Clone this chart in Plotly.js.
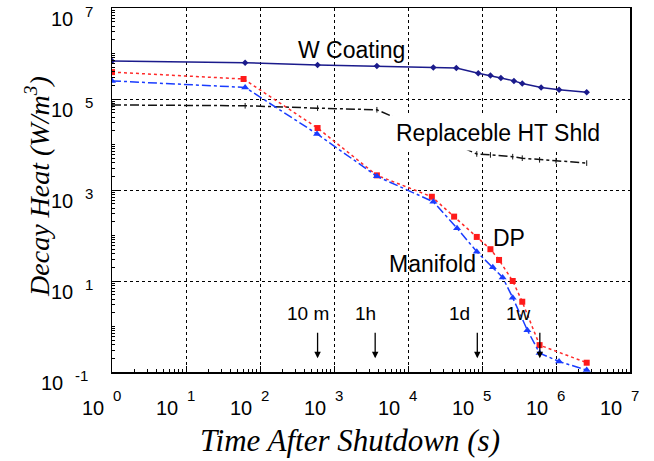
<!DOCTYPE html>
<html>
<head>
<meta charset="utf-8">
<script src="https://cdn.plot.ly/plotly-3.0.1.min.js"></script>
<style>html,body{margin:0;padding:0;background:#fff;}#chart{width:654px;height:461px;}</style>
</head>
<body>
<div id="chart"></div>
<script>
// ---- data (time in seconds, decay heat in W/m^3) ----
const wCoatingTime = [1, 63, 600, 3800, 22000, 45000, 89000, 130000, 180000, 270000, 350000, 630000, 1100000, 2600000];
const wCoatingHeat = [680000, 630000, 560000, 530000, 490000, 480000, 370000, 330000, 290000, 250000, 220000, 180000, 160000, 140000];

const shieldTime = [1, 63, 600, 3800, 7800, 85000, 130000, 260000, 350000, 600000, 1000000, 2600000];
const shieldHeat = [74000, 71000, 63000, 58000, 35000, 6200, 5900, 5400, 5000, 4600, 4400, 3900];

const dpTime = [1, 60, 600, 3800, 21000, 42000, 85000, 130000, 170000, 260000, 350000, 600000, 2600000];
const dpHeat = [390000, 275000, 23000, 2100, 710, 260, 93, 50, 29, 10, 3.5, 0.39, 0.16];

const manifoldTime = [1, 63, 590, 3800, 22000, 46000, 85000, 140000, 190000, 260000, 410000, 600000, 1100000, 2600000];
const manifoldHeat = [250000, 180000, 17000, 2000, 550, 145, 44, 20, 12, 4.3, 0.83, 0.26, 0.17, 0.11];

const xTickVals = [1, 10, 100, 1000, 10000, 100000, 1000000, 10000000];
const xTickExp = ["0", "1", "2", "3", "4", "5", "6", "7"];
const yTickVals = [0.1, 10, 1000, 100000, 10000000];
const yTickExp = ["-1", "1", "3", "5", "7"];

const curveLabels = ["W Coating", "Replaceble HT Shld", "DP", "Manifold"];
const curveLabelTime = [1700, 1.64e5, 2.32e5, 2.11e4];
const curveLabelHeat = [1.19e6, 1.79e4, 86, 23.7];

const timeMarks = ["10 m", "1h", "1d", "1w"];
const timeMarkSec = [600, 3600, 86400, 604800];
const timeMarkLabelTime = [447, 2700, 50000, 3.1e5];
const timeMarkLabelHeat = 1.98;
const arrowTipHeat = 0.2;

// ---- build ----
const TF = "Liberation Sans, Arial, Helvetica, sans-serif";
const SF = "Liberation Serif, Times New Roman, serif";
const L = Math.log10;

const traces = [
  {x: wCoatingTime, y: wCoatingHeat, mode: "lines+markers",
   line: {color: "#1b1b8c", width: 1.5}, marker: {symbol: "diamond", size: 5, color: "#1b1b8c"}},
  {x: shieldTime, y: shieldHeat, mode: "lines+markers",
   line: {color: "#111", width: 1.5, dash: "dashdot"}, marker: {symbol: "line-ns-open", size: 4, color: "#111", line: {color: "#111", width: 1}}},
  {x: dpTime, y: dpHeat, mode: "lines+markers",
   line: {color: "#ff2a2a", width: 1.5, dash: "dot"}, marker: {symbol: "square", size: 6, color: "#ff1a1a"}},
  {x: manifoldTime, y: manifoldHeat, mode: "lines+markers",
   line: {color: "#1a3cff", width: 1.5, dash: "dashdot"}, marker: {symbol: "triangle-up", size: 7, color: "#1a3cff"}}
];

const annotations = [];
// tick labels: "10" + raised exponent
xTickVals.forEach((v, i) => {
  annotations.push({x: L(v), y: 0, xref: "x", yref: "paper", text: "10", showarrow: false,
    xanchor: "right", yanchor: "middle", xshift: -6, yshift: -36, font: {family: TF, size: 20, color: "#000"}});
  annotations.push({x: L(v), y: 0, xref: "x", yref: "paper", text: xTickExp[i], showarrow: false,
    xanchor: "left", yanchor: "middle", xshift: -1, yshift: -23, font: {family: TF, size: 15, color: "#000"}});
});
yTickVals.forEach((v, i) => {
  const wide = yTickExp[i].length > 1 ? -10 : 0;
  annotations.push({x: 0, y: L(v), xref: "paper", yref: "y", text: "10", showarrow: false,
    xanchor: "right", yanchor: "middle", xshift: -37 + wide, yshift: -11, font: {family: TF, size: 20, color: "#000"}});
  annotations.push({x: 0, y: L(v), xref: "paper", yref: "y", text: yTickExp[i], showarrow: false,
    xanchor: "left", yanchor: "middle", xshift: -29 + wide, yshift: -3, font: {family: TF, size: 15, color: "#000"}});
});
curveLabels.forEach((t, i) => {
  annotations.push({x: L(curveLabelTime[i]), y: L(curveLabelHeat[i]), xref: "x", yref: "y",
    text: t, showarrow: false, xanchor: "center", yanchor: "middle", font: {family: TF, size: 23, color: "#000"},
    bgcolor: i === 1 ? "#fff" : "rgba(0,0,0,0)", borderpad: i === 1 ? 4 : 0});
});
timeMarks.forEach((t, i) => {
  annotations.push({x: L(timeMarkLabelTime[i]), y: L(timeMarkLabelHeat), xref: "x", yref: "y",
    text: t, showarrow: false, xanchor: "center", yanchor: "middle", font: {family: TF, size: 19, color: "#000"}});
  annotations.push({x: L(timeMarkSec[i]), y: L(arrowTipHeat), xref: "x", yref: "y",
    text: "", showarrow: true, ax: 0, ay: -27, arrowhead: 2, arrowsize: 1, arrowwidth: 1.3, arrowcolor: "#000"});
});
annotations.push({x: 0.459, y: -0.187, xref: "paper", yref: "paper", showarrow: false, xanchor: "center", yanchor: "middle",
  text: "Time After Shutdown (s)", font: {family: SF, size: 31, color: "#000", style: "italic"}});
annotations.push({x: -0.143, y: 0.511, xref: "paper", yref: "paper", showarrow: false, textangle: -90, xanchor: "center", yanchor: "middle",
  text: "Decay Heat (W/m<sup>3</sup>)", font: {family: SF, size: 28, color: "#000", style: "italic"}});

const axisCommon = {
  type: "log", showline: true, linecolor: "#000", linewidth: 1.5, mirror: true,
  ticks: "inside", ticklen: 6, tickcolor: "#000", tickwidth: 1,
  showgrid: true, gridcolor: "#000", gridwidth: 1, griddash: "dot",
  zeroline: false, showticklabels: false,
  minor: {ticks: "inside", ticklen: 3, dtick: "D1", tickcolor: "#000", showgrid: false}
};

const layout = {
  width: 654, height: 461,
  margin: {l: 112, r: 24, t: 8, b: 89},
  paper_bgcolor: "#fff", plot_bgcolor: "#fff",
  showlegend: false,
  xaxis: Object.assign({}, axisCommon, {range: [0, 7], tickmode: "array", tickvals: xTickVals}),
  yaxis: Object.assign({}, axisCommon, {range: [-1, 7], tickmode: "array", tickvals: yTickVals}),
  annotations: annotations
};

Plotly.newPlot("chart", traces, layout, {displayModeBar: false, staticPlot: true});
</script>
</body>
</html>
